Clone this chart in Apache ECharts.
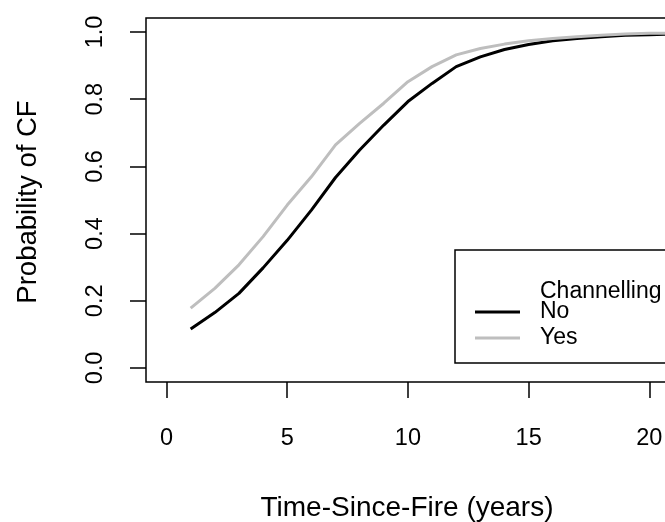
<!DOCTYPE html>
<html><head><meta charset="utf-8">
<script src="https://cdn.jsdelivr.net/npm/echarts@6/dist/echarts.min.js"></script>
<style>html,body{margin:0;padding:0;background:#fff;}#c{width:665px;height:522px;}</style>
</head><body><div id="c"></div>
<script>
const years = [1,2,3,4,5,6,7,8,9,10,11,12,13,14,15,16,17,18,19,20,21];
const probNo  = [0.116,0.165,0.222,0.298,0.38,0.47,0.567,0.649,0.723,0.793,0.847,0.897,0.926,0.948,0.963,0.974,0.981,0.986,0.99,0.992,0.994];
const probYes = [0.178,0.237,0.307,0.391,0.485,0.569,0.664,0.728,0.788,0.852,0.897,0.932,0.951,0.964,0.974,0.981,0.986,0.99,0.994,0.996,0.997];
const xTicks = [0,5,10,15,20];
const yTicks = [0,0.2,0.4,0.6,0.8,1.0];
const FONT = 'Liberation Sans, Arial, Helvetica, sans-serif';

const chart = echarts.init(document.getElementById('c'), null, {renderer:'canvas'});
const zip = (xs, ys) => xs.map((x,i)=>[x, ys[i]]);
chart.setOption({
  animation:false,
  backgroundColor:'#fff',
  grid:{left:146, top:18, width:548, height:364, show:true, borderColor:'#000', borderWidth:1.5,
    backgroundColor:'transparent', containLabel:false, outerBoundsMode:'none'},
  xAxis:{type:'value', min:-0.85, max:21.85,
    axisLine:{show:false, onZero:false},
    splitLine:{show:false},
    axisTick:{show:true, customValues:xTicks, length:16, lineStyle:{color:'#000', width:1.5}},
    axisLabel:{customValues:xTicks, margin:45, color:'#000', fontSize:23.5, fontFamily:FONT}
  },
  yAxis:{type:'value', min:-0.0417, max:1.0417,
    axisLine:{show:false, onZero:false},
    splitLine:{show:false},
    axisTick:{show:true, customValues:yTicks, length:16, lineStyle:{color:'#000', width:1.5}},
    axisLabel:{customValues:yTicks, rotate:90, margin:38, color:'#000', fontSize:23.5, fontFamily:FONT,
      formatter:v=>v.toFixed(1)}
  },
  legend:{left:455, top:250, orient:'vertical', borderColor:'#000', borderWidth:1.5,
    padding:[49,130,12,20], itemGap:0, itemWidth:45, itemHeight:3, icon:'rect',
    textStyle:{color:'#000', fontSize:23, fontFamily:FONT, lineHeight:26, padding:[0,0,0,15]},
    data:['No','Yes']},
  graphic:[
    {type:'text', left:540, top:280, style:{text:'Channelling', fill:'#000', font:'23px '+FONT}},
    {type:'text', x:407, y:508, style:{text:'Time-Since-Fire (years)', fill:'#000', font:'28px '+FONT, textAlign:'center', textVerticalAlign:'middle'}},
    {type:'text', x:28, y:202, rotation:Math.PI/2, style:{text:'Probability of CF', fill:'#000', font:'27.5px '+FONT, textAlign:'center', textVerticalAlign:'middle'}}
  ],
  series:[
    {name:'No', type:'line', data:zip(years, probNo), showSymbol:false, symbol:'none', color:'#000', lineStyle:{color:'#000', width:3}},
    {name:'Yes', type:'line', data:zip(years, probYes), showSymbol:false, symbol:'none', color:'#bebebe', lineStyle:{color:'#bebebe', width:3}}
  ]
});
</script></body></html>
